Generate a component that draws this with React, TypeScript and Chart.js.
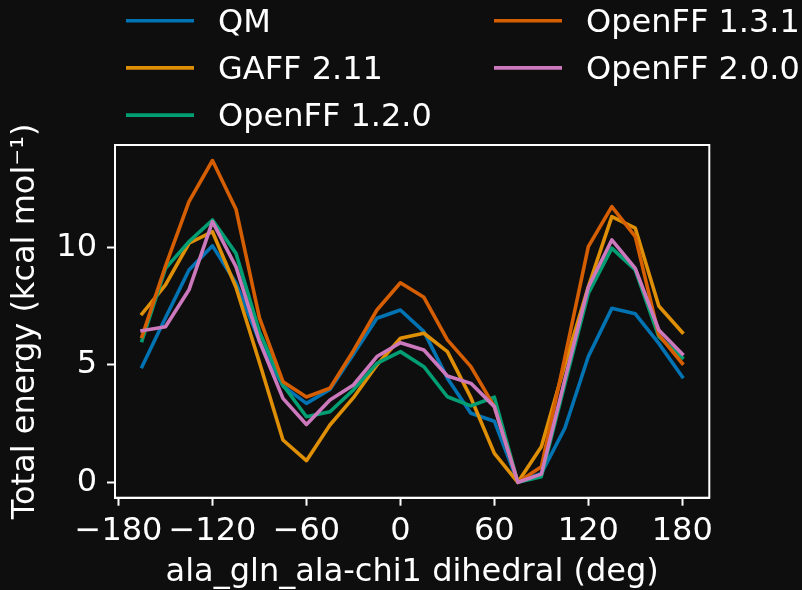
import React, { useEffect, useRef } from "react";
import { Chart, registerables } from "chart.js";

Chart.register(...registerables);

// ---- data ----
const angles = [-165, -150, -135, -120, -105, -90, -75, -60, -45, -30, -15, 0, 15, 30, 45, 60, 75, 90, 105, 120, 135, 150, 165, 180];
const qm = [4.92, 7.0, 9.03, 10.06, 8.48, 6.0, 4.1, 3.36, 3.95, 5.45, 6.98, 7.33, 6.41, 4.43, 2.94, 2.6, 0.0, 0.38, 2.3, 5.35, 7.4, 7.17, 5.91, 4.49];
const gaff211 = [7.17, 8.4, 10.17, 10.66, 8.3, 5.1, 1.8, 0.92, 2.44, 3.6, 4.99, 6.13, 6.34, 5.56, 3.6, 1.23, 0.0, 1.51, 5.0, 8.32, 11.3, 10.81, 7.5, 6.38];
const openff120 = [6.03, 9.1, 10.24, 11.16, 9.74, 6.4, 4.14, 2.79, 3.0, 3.93, 5.06, 5.56, 4.92, 3.64, 3.25, 3.62, 0.0, 0.24, 4.18, 8.04, 9.96, 9.03, 6.2, 5.3];
const openff131 = [6.2, 9.2, 11.94, 13.69, 11.62, 7.0, 4.28, 3.63, 4.0, 5.6, 7.33, 8.49, 7.87, 6.06, 4.92, 3.22, 0.0, 0.66, 5.3, 10.03, 11.73, 10.45, 6.27, 5.06];
const openff200 = [6.45, 6.62, 8.19, 11.09, 9.17, 6.0, 3.57, 2.46, 3.5, 4.14, 5.35, 5.94, 5.63, 4.52, 4.21, 3.22, 0.0, 0.35, 4.37, 8.3, 10.31, 9.1, 6.48, 5.46];

const seriesLabels = ["QM", "GAFF 2.11", "OpenFF 1.2.0", "OpenFF 1.3.1", "OpenFF 2.0.0"];
const seriesValues = [qm, gaff211, openff120, openff131, openff200];
const seriesColors = ["#0173b2", "#de8f05", "#029e73", "#d55e00", "#cc78bc"];

const xTicks = [-180, -120, -60, 0, 60, 120, 180];
const yTicks = [0, 5, 10];

const xTitle = "ala_gln_ala-chi1 dihedral (deg)";
const yTitle = "Total energy (kcal mol\u207B\u00B9)";

// ---- style ----
const BG = "#0e0e0e";
const FG = "#ffffff";
const FONT = "DejaVu Sans";
const FS = 32;

const framePlugin = {
  id: "frame",
  beforeDraw(chart: any) {
    const { ctx, width, height } = chart;
    ctx.save();
    ctx.fillStyle = BG;
    ctx.fillRect(0, 0, width, height);
    ctx.restore();
  },
  afterDraw(chart: any) {
    const { ctx, chartArea } = chart;
    ctx.save();
    ctx.strokeStyle = FG;
    ctx.lineWidth = 2;
    ctx.strokeRect(chartArea.left, chartArea.top, chartArea.right - chartArea.left, chartArea.bottom - chartArea.top);
    // legend: two columns, column-major
    const colX = [126, 494];
    const lineLen = 68;
    const textOff = 92;
    const rowY0 = 20.7;
    const rowStep = 47.2;
    ctx.font = `${FS}px "${FONT}"`;
    ctx.textBaseline = "alphabetic";
    ctx.textAlign = "left";
    seriesLabels.forEach((lab, i) => {
      const col = Math.floor(i / 3);
      const row = i % 3;
      const x = colX[col];
      const y = rowY0 + row * rowStep;
      ctx.strokeStyle = seriesColors[i];
      ctx.lineWidth = 3.6;
      ctx.lineCap = "butt";
      ctx.beginPath();
      ctx.moveTo(x, y);
      ctx.lineTo(x + lineLen, y);
      ctx.stroke();
      ctx.fillStyle = FG;
      ctx.fillText(lab, x + textOff, y + 11);
    });
    ctx.restore();
  },
};

const fmt = (v: any) => String(v).replace("-", "\u2212");

export default function App() {
  const ref = useRef<HTMLCanvasElement | null>(null);
  useEffect(() => {
    document.body.style.margin = "0";
    document.body.style.background = BG;
    const canvas = ref.current!;
    const chart = new Chart(canvas, {
      type: "line",
      data: {
        datasets: seriesLabels.map((lab, i) => ({
          label: lab,
          data: angles.map((a, j) => ({ x: a, y: seriesValues[i][j] })),
          borderColor: seriesColors[i],
          backgroundColor: seriesColors[i],
          borderWidth: 3.6,
          pointRadius: 0,
          tension: 0,
          fill: false,
          borderJoinStyle: "round" as const,
          borderCapStyle: "square" as const,
          order: seriesLabels.length - i,
        })),
      },
      options: {
        animation: false,
        responsive: false,
        devicePixelRatio: 1,
        layout: { padding: { top: 145, right: 92.7, left: 0, bottom: 0 } },
        plugins: { legend: { display: false }, tooltip: { enabled: false } },
        scales: {
          x: {
            type: "linear",
            min: -182.25,
            max: 197.25,
            afterBuildTicks: (s: any) => {
              s.ticks = xTicks.map((v) => ({ value: v }));
            },
            afterFit: (s: any) => {
              s.height = 92.3;
            },
            ticks: {
              color: FG,
              font: { family: FONT, size: FS },
              padding: 7,
              maxRotation: 0,
              autoSkip: false,
              callback: (v: any) => fmt(v),
            },
            grid: {
              drawOnChartArea: false,
              drawTicks: true,
              tickLength: 8,
              tickWidth: 2,
              tickColor: FG,
            },
            border: { display: true, color: FG, width: 2 },
            title: {
              display: true,
              text: xTitle,
              color: FG,
              font: { family: FONT, size: FS, lineHeight: 1.1 },
              padding: { top: 0, bottom: 0 },
            },
          },
          y: {
            type: "linear",
            min: -0.655,
            max: 14.35,
            afterBuildTicks: (s: any) => {
              s.ticks = yTicks.map((v) => ({ value: v }));
            },
            afterFit: (s: any) => {
              s.width = 115;
            },
            ticks: {
              color: FG,
              font: { family: FONT, size: FS },
              padding: 10,
              autoSkip: false,
              callback: (v: any) => fmt(v),
            },
            grid: {
              drawOnChartArea: false,
              drawTicks: true,
              tickLength: 8,
              tickWidth: 2,
              tickColor: FG,
            },
            border: { display: true, color: FG, width: 2 },
            title: {
              display: true,
              text: yTitle,
              color: FG,
              font: { family: FONT, size: FS },
              padding: { top: 6, bottom: 0 },
            },
          },
        },
      },
      plugins: [framePlugin],
    });
    return () => chart.destroy();
  }, []);
  return (
    <div style={{ width: 802, height: 590 }}>
      <canvas ref={ref} width={802} height={590} style={{ display: "block" }} />
    </div>
  );
}
